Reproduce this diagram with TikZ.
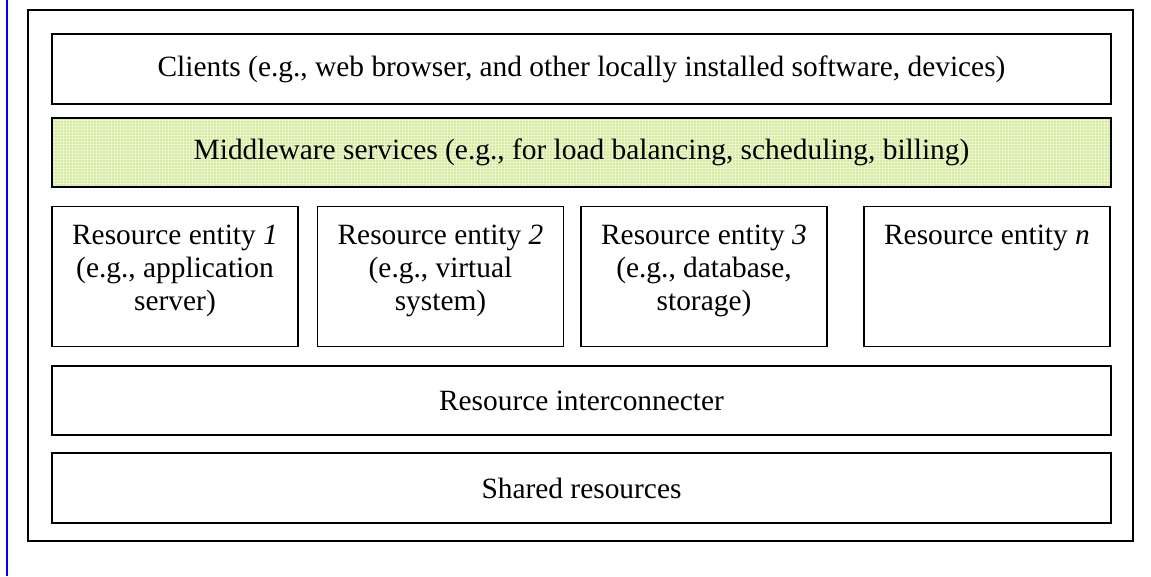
\documentclass[tikz,border=0pt]{standalone}
\usepackage{fontspec}
\setmainfont{Liberation Serif}
\usetikzlibrary{patterns}
\definecolor{mwgreen}{RGB}{214,234,158}
\definecolor{mwgrid}{RGB}{236,246,206}
\newcommand{\entitytext}[1]{\parbox[c][140pt][t]{246pt}{\centering\vspace*{19pt}#1}}

\begin{document}
\begin{tikzpicture}[x=1pt,y=-1pt,
		layer/.style={draw,line width=1.4pt,minimum width=1059pt,minimum height=70pt,inner sep=0pt,font=\fontsize{29.4}{33}\selectfont},
		entity/.style={draw,line width=1.4pt,inner sep=0pt,font=\fontsize{29.4}{33}\selectfont}]
			\useasboundingbox (0,0) rectangle (1151,576);
			\draw[blue,line width=2.4pt] (7,0) -- (7,576);
			\draw[line width=1.4pt] (28,10) rectangle (1133,541);
			
			\node[layer] (clients) at (581.5,69) {Clients (e.g., web browser, and other locally installed software, devices)};
			\node[layer,minimum height=69pt,preaction={fill=mwgreen},pattern=grid,pattern color=mwgrid] (middleware) at (581.5,152.5) {Middleware services (e.g., for load balancing, scheduling, billing)};
			
			\node[entity] (entity1) at (175,276.5) {\entitytext{Resource entity \textit{1}\\(e.g., application\\server)}};
			\node[entity] (entity2) at (440.5,276.5) {\entitytext{Resource entity \textit{2}\\(e.g., virtual\\system)}};
			\node[entity] (entity3) at (704,276.5) {\entitytext{Resource entity \textit{3}\\(e.g., database,\\storage)}};
			\node[entity] (entityn) at (987,276.5) {\entitytext{Resource entity \textit{n}}};
			
			\node[layer,minimum height=69pt] (interconnect) at (581.5,400.5) {Resource interconnecter};
			\node[layer] (shared) at (581.5,488) {Shared resources};
		\end{tikzpicture}
\end{document}
